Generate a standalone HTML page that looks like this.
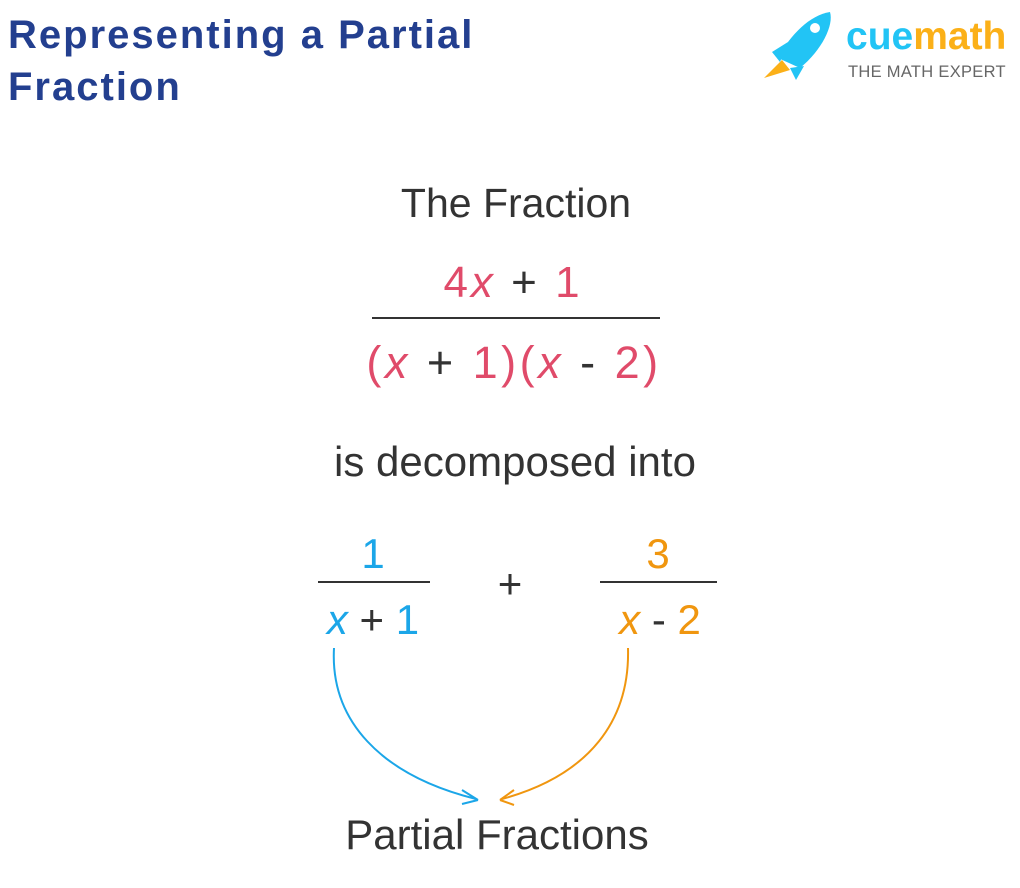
<!DOCTYPE html>
<html><head><meta charset="utf-8"><style>
html,body{margin:0;padding:0;background:#fff;}
svg{display:block;font-family:"Liberation Sans",sans-serif;}
</style></head><body>
<svg width="1020" height="888" viewBox="0 0 1020 888">
<text x="8" y="48" font-size="40" font-weight="bold" fill="#233f8f" letter-spacing="2">Representing a Partial</text>
<text x="8" y="100" font-size="40" font-weight="bold" fill="#233f8f" letter-spacing="2">Fraction</text>
<!-- logo -->
<g transform="translate(760,10)">
<path d="M4 68 L22 50 L30 60 Z" fill="#fbb018"/>
<path d="M18 48 C30 25 50 5 70 2 C74 15 62 40 40 58 Z" fill="#22c4f5"/>
<path d="M12 42 L28 32 L20 52 Z" fill="#22c4f5"/>
<path d="M44 56 L36 70 L30 58 Z" fill="#22c4f5"/>
<circle cx="55" cy="18" r="5" fill="#fff"/>
</g>
<text x="846" y="49" font-size="39" font-weight="bold" fill="#22c4f5">cue<tspan fill="#fbb018">math</tspan></text>
<text x="848" y="77" font-size="16.5" fill="#666" letter-spacing="0.3">THE MATH EXPERT</text>

<text x="516" y="217" font-size="41" fill="#333" text-anchor="middle">The Fraction</text>
<text x="513" y="297" font-size="44" fill="#e04b6a" text-anchor="middle" letter-spacing="3">4<tspan font-style="italic">x</tspan> <tspan fill="#333">+</tspan> 1</text>
<line x1="372" y1="318" x2="660" y2="318" stroke="#333" stroke-width="2"/>
<text x="514" y="378" font-size="45" fill="#e04b6a" text-anchor="middle" letter-spacing="3.5">(<tspan font-style="italic">x</tspan> <tspan fill="#333">+</tspan> 1)(<tspan font-style="italic">x</tspan> <tspan fill="#333">-</tspan> 2)</text>
<text x="515" y="476" font-size="42" fill="#333" text-anchor="middle">is decomposed into</text>

<text x="373" y="568" font-size="42" fill="#1ba6e8" text-anchor="middle">1</text>
<line x1="318" y1="582" x2="430" y2="582" stroke="#333" stroke-width="2"/>
<text x="373" y="634" font-size="42" fill="#1ba6e8" text-anchor="middle"><tspan font-style="italic">x</tspan> <tspan fill="#333">+</tspan> 1</text>
<text x="510" y="598" font-size="42" fill="#333" text-anchor="middle">+</text>
<text x="658" y="568" font-size="42" fill="#f0960f" text-anchor="middle">3</text>
<line x1="600" y1="582" x2="717" y2="582" stroke="#333" stroke-width="2"/>
<text x="660" y="634" font-size="42" fill="#f0960f" text-anchor="middle"><tspan font-style="italic">x</tspan> <tspan fill="#333">-</tspan> 2</text>

<path d="M334 648 C330 720 380 775 476 799" fill="none" stroke="#1ba6e8" stroke-width="2"/>
<path d="M478 800 L462 790 M478 800 L462 804" stroke="#1ba6e8" stroke-width="2" fill="none"/>
<path d="M628 648 C630 720 590 775 502 799" fill="none" stroke="#f0960f" stroke-width="2"/>
<path d="M500 800 L514 790 M500 800 L514 805" stroke="#f0960f" stroke-width="2" fill="none"/>

<text x="497" y="849" font-size="42" fill="#333" text-anchor="middle">Partial Fractions</text>
</svg>
</body></html>
